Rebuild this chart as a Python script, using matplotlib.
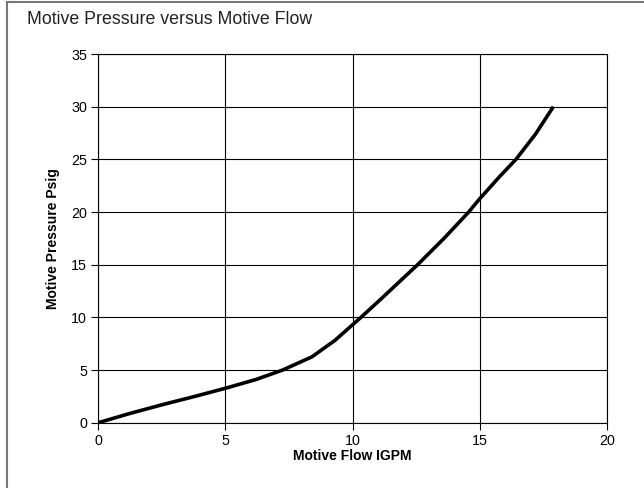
import numpy as np
import matplotlib.pyplot as plt
from matplotlib.lines import Line2D

plt.rcParams['font.family'] = ['Liberation Sans', 'DejaVu Sans']

# curve
flow = [0, 1.2, 2.5, 3.8, 5, 6.2, 7.25, 8.4, 9.3, 10.33, 11.1, 12.56, 13.6, 14.57, 15, 15.8, 16.43, 17.2, 17.9]
pressure = [0, 0.85, 1.7, 2.5, 3.27, 4.1, 5, 6.25, 7.8, 10, 11.7, 15, 17.5, 20, 21.25, 23.4, 25, 27.4, 30]

x_ticks = [0, 5, 10, 15, 20]
y_ticks = [0, 5, 10, 15, 20, 25, 30, 35]

fig = plt.figure(figsize=(6.44, 4.88), dpi=100)

# frame: only top and left edges are drawn
fig.add_artist(Line2D([7/644, 1], [1 - 1.5/488, 1 - 1.5/488], transform=fig.transFigure,
                      color='#777777', lw=1.5))
fig.add_artist(Line2D([7/644, 7/644], [0, 1 - 1.5/488], transform=fig.transFigure,
                      color='#777777', lw=1.5))

fig.text(27/644, 1 - 20/488, 'Motive Pressure versus Motive Flow', fontsize=12.8,
         color='#222222', va='center', ha='left')

ax = fig.add_axes((0.1527, 0.1338, 0.7894, 0.7555))

ax.plot(flow, pressure, color='k', lw=2.6, solid_capstyle='butt')

ax.set_xlim(0, 20)
ax.set_ylim(0, 35)
ax.set_xticks(x_ticks)
ax.set_yticks(y_ticks)
ax.grid(True, color='k', lw=0.8)
ax.set_axisbelow(True)
for s in ax.spines.values():
    s.set_color('k')
    s.set_linewidth(0.8)
ax.tick_params(direction='out', length=5, width=0.8, labelsize=10.3, pad=3)

ax.set_xlabel('Motive Flow IGPM', fontsize=10, fontweight='bold', labelpad=1)
ax.set_ylabel('Motive Pressure Psig', fontsize=10, fontweight='bold', labelpad=8)

fig.savefig('out.png', dpi=100)
